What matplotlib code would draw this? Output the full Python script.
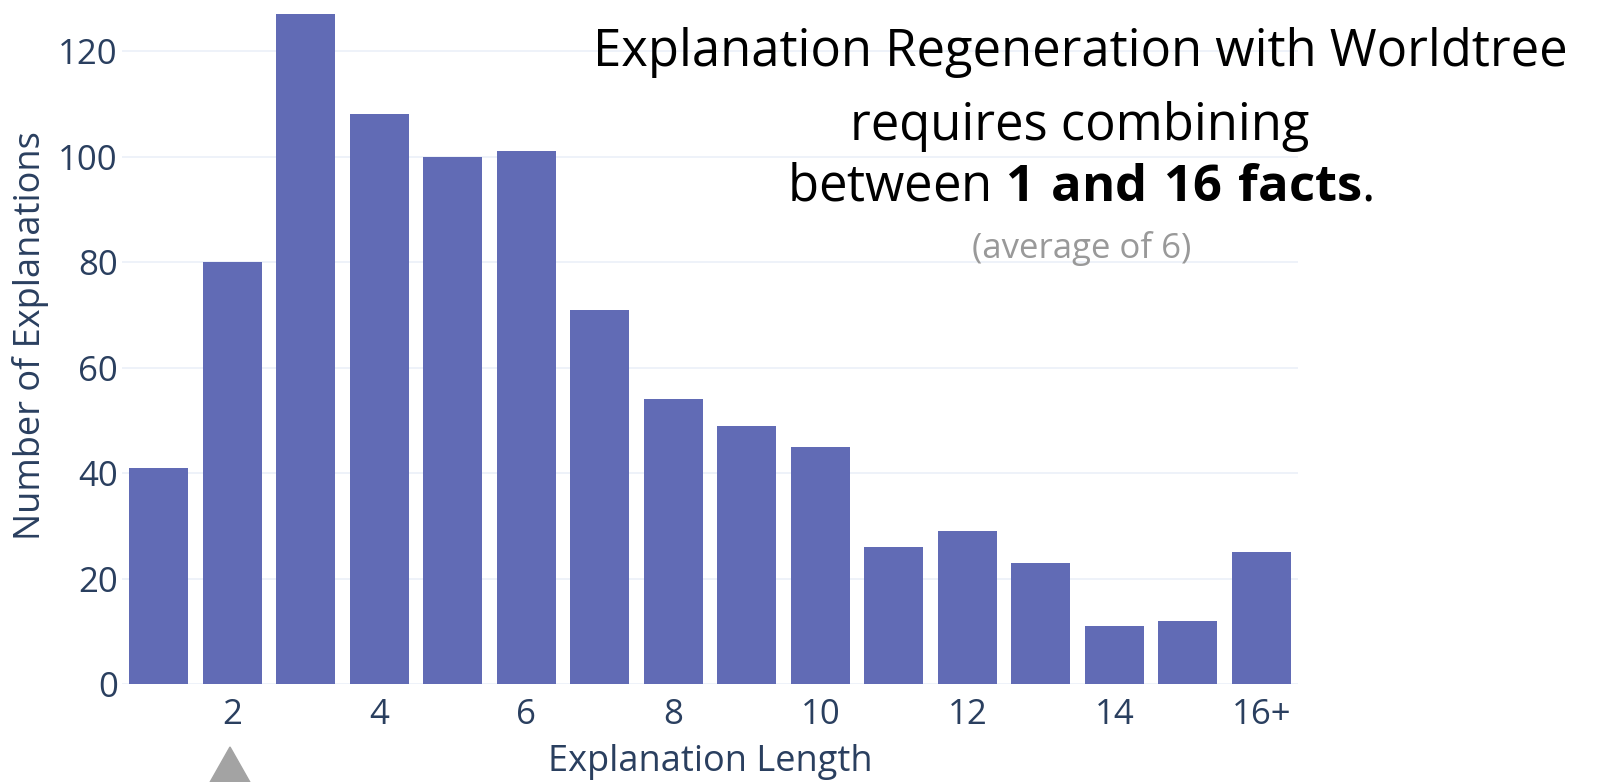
import matplotlib
matplotlib.use('Agg')
import matplotlib.pyplot as plt
from matplotlib.patches import Polygon

# Explanation length histogram (Worldtree)
lengths = list(range(1, 17))
counts = [41, 80, 127, 108, 100, 101, 71, 54, 49, 45, 26, 29, 23, 11, 12, 25]
tick_pos = [2, 4, 6, 8, 10, 12, 14, 16]
tick_labels = ['2', '4', '6', '8', '10', '12', '14', '16+']
y_ticks = [0, 20, 40, 60, 80, 100, 120]

bar_color = '#616bb5'
axis_color = '#2a3f5f'
grid_color = '#ebf0f8'

plt.rcParams['font.family'] = ['Open Sans', 'DejaVu Sans']
plt.rcParams['mathtext.fontset'] = 'custom'
plt.rcParams['mathtext.rm'] = 'Open Sans'
plt.rcParams['mathtext.bf'] = 'Open Sans:bold'

W, H = 1597, 782
fig = plt.figure(figsize=(W / 100, H / 100), dpi=100)
ax = fig.add_axes([122 / W, (H - 684) / H, (1298 - 122) / W, 684 / H])

ax.bar(lengths, counts, width=0.8, color=bar_color, zorder=2)
ax.set_xlim(0.5, 16.5)
ax.set_ylim(0, 129.7)
ax.set_yticks(y_ticks)
ax.set_xticks(tick_pos)
ax.set_xticklabels(tick_labels)
ax.yaxis.grid(True, color=grid_color, linewidth=1.2, zorder=0)
ax.tick_params(axis='both', length=0, labelsize=25, labelcolor=axis_color)
ax.tick_params(axis='x', pad=10)
ax.tick_params(axis='y', pad=3)
for s in ax.spines.values():
    s.set_visible(False)

fig.text(710 / W, 1 - 762 / H, 'Explanation Length', ha='center', va='center',
         fontsize=26, color=axis_color)
fig.text(31 / W, 1 - 336 / H, 'Number of Explanations', ha='center', va='center',
         rotation=90, fontsize=26, color=axis_color)

# annotation text
fig.text(1080 / W, 1 - 53 / H, 'Explanation Regeneration with Worldtree',
         ha='center', va='center', fontsize=36.5, color='black')
fig.text(1080 / W, 1 - 127 / H, 'requires combining',
         ha='center', va='center', fontsize=36.5, color='black')
fig.text(1080 / W, 1 - 187 / H, r'between $\mathbf{1\ and\ 16\ facts}$.',
         ha='center', va='center', fontsize=36.5, color='black')
fig.text(1082 / W, 1 - 249 / H, '(average of 6)',
         ha='center', va='center', fontsize=25, color='#999999')

# gray pointer under "2"
tri = Polygon([(230 / W, 1 - 747 / H), (200 / W, 1 - 800 / H), (260 / W, 1 - 800 / H)],
              closed=True, transform=fig.transFigure, color='#a3a3a3', clip_on=False)
fig.patches.append(tri)

fig.savefig('out.png', dpi=100)
